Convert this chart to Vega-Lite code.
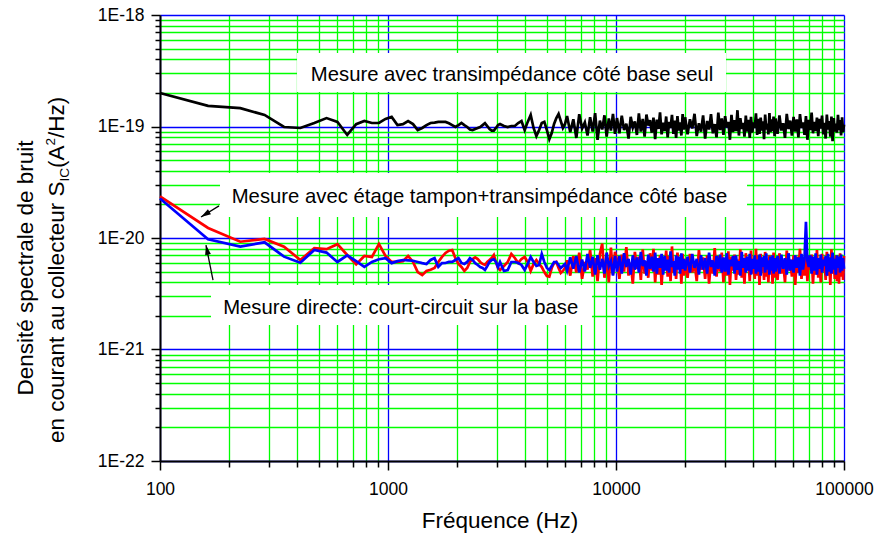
{
"$schema": "https://vega.github.io/schema/vega-lite/v6.json",
"width": 684, "height": 446,
"autosize": {"type": "none"},
"padding": {"left": 160, "top": 15, "right": 31, "bottom": 74},
"background": "white",
"config": {"view": {"stroke": null}, "font": "Liberation Sans"},
"resolve": {"axis": {"x": "independent", "y": "independent"}},
"data": {"values": [
{"f":100,"k":2.0e-19,"r":2.36e-20,"b":2.26e-20},
{"f":162.5,"k":1.53e-19,"r":1.23e-20,"b":9.75e-21},
{"f":225,"k":1.46e-19,"r":9.26e-21,"b":8.36e-21},
{"f":287.5,"k":1.27e-19,"r":9.8e-21,"b":9.15e-21},
{"f":350,"k":9.9e-20,"r":8.36e-21,"b":6.8e-21},
{"f":412.5,"k":9.7e-20,"r":6.35e-21,"b":6.0e-21},
{"f":475,"k":1.075e-19,"r":8.1e-21,"b":7.8e-21},
{"f":537.5,"k":1.19e-19,"r":7.95e-21,"b":7.4e-21},
{"f":600,"k":1.1e-19,"r":8.8e-21,"b":6.1e-21},
{"f":662.5,"k":8.4e-20,"r":7.04e-21,"b":7.0e-21},
{"f":725,"k":1.05e-19,"r":5.8e-21,"b":6.2e-21},
{"f":787.5,"k":1.12e-19,"r":6.9e-21,"b":5.5e-21},
{"f":850,"k":1.075e-19,"r":6.76e-21,"b":6.1e-21},
{"f":912.5,"k":1.075e-19,"r":8.84e-21,"b":6.45e-21},
{"f":975,"k":1.17e-19,"r":6.9e-21,"b":6.6e-21},
{"f":1037.5,"k":1.22e-19,"r":6.1e-21,"b":5.95e-21},
{"f":1100,"k":1.03e-19,"r":6.1e-21,"b":6.2e-21},
{"f":1162.5,"k":1.05e-19,"r":6.2e-21,"b":6.35e-21},
{"f":1225,"k":1.12e-19,"r":6.9e-21,"b":6.3e-21},
{"f":1287.5,"k":1.05e-19,"r":6.1e-21,"b":6.25e-21},
{"f":1350,"k":9.3e-20,"r":4.95e-21,"b":6.1e-21},
{"f":1412.5,"k":9.7e-20,"r":4.66e-21,"b":5.95e-21},
{"f":1475,"k":1.03e-19,"r":5.06e-21,"b":5.85e-21},
{"f":1537.5,"k":1.075e-19,"r":5.2e-21,"b":6.35e-21},
{"f":1600,"k":1.085e-19,"r":5.38e-21,"b":6.6e-21},
{"f":1662.5,"k":1.1e-19,"r":6.1e-21,"b":5.5e-21},
{"f":1725,"k":1.1e-19,"r":6.76e-21,"b":5.95e-21},
{"f":1787.5,"k":1.1e-19,"r":7.34e-21,"b":5.97e-21},
{"f":1850,"k":1.07e-19,"r":7.7e-21,"b":6.1e-21},
{"f":1912.5,"k":1.03e-19,"r":7.8e-21,"b":6.1e-21},
{"f":1975,"k":9.9e-20,"r":6.6e-21,"b":6.35e-21},
{"f":2037.5,"k":1.03e-19,"r":5.85e-21,"b":6.6e-21},
{"f":2100,"k":1.075e-19,"r":5.5e-21,"b":5.97e-21},
{"f":2162.5,"k":1.03e-19,"r":5.06e-21,"b":5.85e-21},
{"f":2225,"k":9.9e-20,"r":5.38e-21,"b":6.1e-21},
{"f":2287.5,"k":9.4e-20,"r":6.1e-21,"b":6.6e-21},
{"f":2350,"k":9.3e-20,"r":6.48e-21,"b":6.35e-21},
{"f":2412.5,"k":9.5e-20,"r":6.7e-21,"b":5.95e-21},
{"f":2475,"k":9.7e-20,"r":6.48e-21,"b":5.73e-21},
{"f":2537.5,"k":9.9e-20,"r":6.1e-21,"b":5.49e-21},
{"f":2600,"k":1.03e-19,"r":5.85e-21,"b":5.38e-21},
{"f":2662.5,"k":1.07e-19,"r":5.73e-21,"b":5.16e-21},
{"f":2725,"k":1.01e-19,"r":6.1e-21,"b":5.6e-21},
{"f":2787.5,"k":9.5e-20,"r":6.35e-21,"b":6.1e-21},
{"f":2850,"k":9.2e-20,"r":6.62e-21,"b":6.35e-21},
{"f":2912.5,"k":9.2e-20,"r":7.04e-21,"b":6.45e-21},
{"f":2975,"k":9.7e-20,"r":6.09e-21,"b":6.1e-21},
{"f":3037.5,"k":1.03e-19,"r":5.38e-21,"b":5.49e-21},
{"f":3100,"k":1.053e-19,"r":5.16e-21,"b":6.09e-21},
{"f":3225,"k":1.01e-19,"r":5.61e-21,"b":5.06e-21},
{"f":3350,"k":9.9e-20,"r":6.09e-21,"b":5.16e-21},
{"f":3475,"k":1.01e-19,"r":7.19e-21,"b":6.09e-21},
{"f":3600,"k":1.01e-19,"r":6.62e-21,"b":6.09e-21},
{"f":3725,"k":1.075e-19,"r":5.97e-21,"b":5.97e-21},
{"f":3850,"k":1.12e-19,"r":6.48e-21,"b":5.73e-21},
{"f":3975,"k":9.3e-20,"r":6.76e-21,"b":5.16e-21},
{"f":4100,"k":1.1e-19,"r":6.09e-21,"b":5.85e-21},
{"f":4225,"k":1.27e-19,"r":5.06e-21,"b":6.76e-21},
{"f":4350,"k":9.7e-20,"r":5.85e-21,"b":6.09e-21},
{"f":4475,"k":8.2e-20,"r":6.35e-21,"b":5.61e-21},
{"f":4600,"k":9.3e-20,"r":5.85e-21,"b":5.73e-21},
{"f":4725,"k":1.075e-19,"r":5.49e-21,"b":7.19e-21},
{"f":4850,"k":1.1e-19,"r":4.95e-21,"b":6.09e-21},
{"f":4975,"k":9.3e-20,"r":4.56e-21,"b":5.38e-21},
{"f":5100,"k":7.7e-20,"r":4.5e-21,"b":5.16e-21},
{"f":5225,"k":8.74e-20,"r":5.38e-21,"b":5.61e-21},
{"f":5350,"k":1.053e-19,"r":5.97e-21,"b":6.09e-21},
{"f":5475,"k":1.19e-19,"r":6.1e-21,"b":6.09e-21},
{"f":5600,"k":1.295e-19,"r":5.38e-21,"b":5.73e-21},
{"f":5725,"k":1.12e-19,"r":4.85e-21,"b":5.38e-21},
{"f":5850,"k":9.7e-20,"r":5.06e-21,"b":5.61e-21},
{"f":5975,"k":1.053e-19,"r":5.38e-21,"b":5.85e-21},
{"f":6100,"k":1.24e-19,"r":6.3e-21,"b":5.1e-21},
{"f":6300,"k":8.9e-20,"r":4.6e-21,"b":6.7e-21},
{"f":6500,"k":1.16e-19,"r":6.9e-21,"b":5.3e-21},
{"f":6700,"k":7.9e-20,"r":4.9e-21,"b":6.9e-21},
{"f":6900,"k":1.29e-19,"r":7.4e-21,"b":4.9e-21},
{"f":7100,"k":9.6e-20,"r":4.3e-21,"b":6.4e-21},
{"f":7300,"k":1.09e-19,"r":6.1e-21,"b":5.0e-21},
{"f":7500,"k":8.3e-20,"r":5.2e-21,"b":7.2e-21},
{"f":7700,"k":1.21e-19,"r":7.8e-21,"b":5.4e-21},
{"f":7900,"k":9.0e-20,"r":4.5e-21,"b":6.8e-21},
{"f":8100,"k":1.32e-19,"r":6.6e-21,"b":4.7e-21},
{"f":8300,"k":7.6e-20,"r":4.1e-21,"b":7.0e-21},
{"f":8500,"k":1.13e-19,"r":7.2e-21,"b":5.2e-21},
{"f":8700,"k":9.4e-20,"r":8.9e-21,"b":6.5e-21},
{"f":8900,"k":1.26e-19,"r":4.4e-21,"b":4.8e-21},
{"f":9100,"k":8.1e-20,"r":6.8e-21,"b":7.4e-21},
{"f":9300,"k":1.18e-19,"r":4.0e-21,"b":5.6e-21},
{"f":9500,"k":9.2e-20,"r":8.2e-21,"b":6.2e-21},
{"f":9700,"k":1.3e-19,"r":4.7e-21,"b":4.6e-21},
{"f":9900,"k":8.6e-20,"r":7.5e-21,"b":6.9e-21},
{"f":10100,"k":1.19e-19,"r":6.4e-21,"b":5.0e-21},
{"f":10350,"k":8.7e-20,"r":4.3e-21,"b":6.9e-21},
{"f":10600,"k":1.25e-19,"r":7.1e-21,"b":4.8e-21},
{"f":10850,"k":9.3e-20,"r":5.0e-21,"b":7.3e-21},
{"f":11100,"k":1.06e-19,"r":8.3e-21,"b":5.5e-21},
{"f":11350,"k":7.8e-20,"r":4.6e-21,"b":6.5e-21},
{"f":11600,"k":1.22e-19,"r":6.0e-21,"b":4.7e-21},
{"f":11850,"k":9.8e-20,"r":3.9e-21,"b":7.0e-21},
{"f":12100,"k":1.11e-19,"r":7.5e-21,"b":5.2e-21},
{"f":12350,"k":8.4e-20,"r":5.3e-21,"b":6.7e-21},
{"f":12600,"k":1.31e-19,"r":6.8e-21,"b":4.9e-21},
{"f":12850,"k":9.0e-20,"r":4.2e-21,"b":7.5e-21},
{"f":13100,"k":1.17e-19,"r":7.9e-21,"b":5.6e-21},
{"f":13350,"k":8.1e-20,"r":4.8e-21,"b":6.3e-21},
{"f":13600,"k":1.28e-19,"r":6.2e-21,"b":4.6e-21},
{"f":13850,"k":1.02e-19,"r":4.4e-21,"b":7.1e-21},
{"f":14100,"k":1.14e-19,"r":7.3e-21,"b":5.3e-21},
{"f":14350,"k":8.8e-20,"r":5.1e-21,"b":6.8e-21},
{"f":14600,"k":1.2e-19,"r":8.0e-21,"b":5.0e-21},
{"f":14850,"k":7.7e-20,"r":4.0e-21,"b":7.4e-21},
{"f":15100,"k":1.15e-19,"r":6.6e-21,"b":4.8e-21},
{"f":15350,"k":9.5e-20,"r":4.7e-21,"b":6.6e-21},
{"f":15600,"k":1.34e-19,"r":7.0e-21,"b":5.4e-21},
{"f":15850,"k":8.5e-20,"r":3.8e-21,"b":7.2e-21},
{"f":16100,"k":1.08e-19,"r":6.3e-21,"b":4.7e-21},
{"f":16350,"k":9.1e-20,"r":5.2e-21,"b":6.9e-21},
{"f":16600,"k":1.23e-19,"r":7.7e-21,"b":5.1e-21},
{"f":16850,"k":8.0e-20,"r":4.5e-21,"b":6.4e-21},
{"f":17100,"k":1.1e-19,"r":6.9e-21,"b":4.9e-21},
{"f":17350,"k":9.7e-20,"r":4.1e-21,"b":7.6e-21},
{"f":17600,"k":1.27e-19,"r":8.4e-21,"b":5.5e-21},
{"f":17850,"k":8.6e-20,"r":4.9e-21,"b":6.2e-21},
{"f":18100,"k":1.13e-19,"r":6.1e-21,"b":4.6e-21},
{"f":18350,"k":7.9e-20,"r":4.3e-21,"b":7.0e-21},
{"f":18600,"k":1.24e-19,"r":7.4e-21,"b":5.2e-21},
{"f":18850,"k":9.2e-20,"r":5.4e-21,"b":6.8e-21},
{"f":19100,"k":1.09e-19,"r":6.7e-21,"b":4.8e-21},
{"f":19350,"k":8.3e-20,"r":3.9e-21,"b":7.3e-21},
{"f":19600,"k":1.29e-19,"r":7.2e-21,"b":5.3e-21},
{"f":19850,"k":9.4e-20,"r":4.6e-21,"b":6.5e-21},
{"f":20100,"k":1.21e-19,"r":6.5e-21,"b":5.1e-21},
{"f":20600,"k":8.5e-20,"r":4.4e-21,"b":6.8e-21},
{"f":21100,"k":1.16e-19,"r":7.2e-21,"b":4.9e-21},
{"f":21600,"k":9.6e-20,"r":4.9e-21,"b":7.2e-21},
{"f":22100,"k":1.3e-19,"r":6.0e-21,"b":5.4e-21},
{"f":22600,"k":8.2e-20,"r":4.1e-21,"b":6.5e-21},
{"f":23100,"k":1.07e-19,"r":7.8e-21,"b":4.7e-21},
{"f":23600,"k":9.0e-20,"r":5.2e-21,"b":7.0e-21},
{"f":24100,"k":1.26e-19,"r":6.7e-21,"b":5.2e-21},
{"f":24600,"k":7.8e-20,"r":4.3e-21,"b":6.6e-21},
{"f":25100,"k":1.12e-19,"r":7.0e-21,"b":4.8e-21},
{"f":25600,"k":9.4e-20,"r":3.9e-21,"b":7.4e-21},
{"f":26100,"k":1.29e-19,"r":6.3e-21,"b":5.5e-21},
{"f":26600,"k":8.7e-20,"r":4.8e-21,"b":6.3e-21},
{"f":27100,"k":1.05e-19,"r":8.1e-21,"b":4.6e-21},
{"f":27600,"k":8.0e-20,"r":4.5e-21,"b":6.9e-21},
{"f":28100,"k":1.33e-19,"r":6.9e-21,"b":5.3e-21},
{"f":28600,"k":9.3e-20,"r":5.0e-21,"b":7.1e-21},
{"f":29100,"k":1.18e-19,"r":7.4e-21,"b":4.9e-21},
{"f":29600,"k":8.4e-20,"r":4.0e-21,"b":6.7e-21},
{"f":30100,"k":1.24e-19,"r":6.2e-21,"b":5.0e-21},
{"f":30600,"k":9.8e-20,"r":4.6e-21,"b":7.3e-21},
{"f":31100,"k":1.1e-19,"r":7.6e-21,"b":4.7e-21},
{"f":31600,"k":7.6e-20,"r":3.8e-21,"b":6.4e-21},
{"f":32100,"k":1.27e-19,"r":6.8e-21,"b":5.6e-21},
{"f":32600,"k":8.9e-20,"r":5.1e-21,"b":6.9e-21},
{"f":33100,"k":1.14e-19,"r":7.1e-21,"b":4.8e-21},
{"f":33600,"k":9.1e-20,"r":4.2e-21,"b":7.0e-21},
{"f":34100,"k":1.4e-19,"r":6.4e-21,"b":5.2e-21},
{"f":34600,"k":8.3e-20,"r":4.7e-21,"b":6.2e-21},
{"f":35100,"k":1.19e-19,"r":7.9e-21,"b":4.6e-21},
{"f":35600,"k":9.5e-20,"r":4.4e-21,"b":7.5e-21},
{"f":36100,"k":1.08e-19,"r":6.1e-21,"b":5.4e-21},
{"f":36600,"k":8.1e-20,"r":3.9e-21,"b":6.6e-21},
{"f":37100,"k":1.25e-19,"r":7.3e-21,"b":4.9e-21},
{"f":37600,"k":9.0e-20,"r":5.3e-21,"b":6.8e-21},
{"f":38100,"k":1.15e-19,"r":6.6e-21,"b":5.1e-21},
{"f":38600,"k":7.9e-20,"r":4.1e-21,"b":7.2e-21},
{"f":39100,"k":1.22e-19,"r":7.7e-21,"b":4.7e-21},
{"f":39600,"k":8.8e-20,"r":4.8e-21,"b":6.5e-21},
{"f":40100,"k":1.09e-19,"r":6.0e-21,"b":5.3e-21},
{"f":40600,"k":9.7e-20,"r":4.3e-21,"b":7.0e-21},
{"f":41100,"k":1.31e-19,"r":8.0e-21,"b":4.8e-21},
{"f":41600,"k":8.4e-20,"r":4.6e-21,"b":6.4e-21},
{"f":42100,"k":1.17e-19,"r":6.9e-21,"b":5.0e-21},
{"f":42600,"k":8.6e-20,"r":3.8e-21,"b":7.1e-21},
{"f":43100,"k":1.2e-19,"r":7.2e-21,"b":4.6e-21},
{"f":43600,"k":9.2e-20,"r":5.0e-21,"b":6.7e-21},
{"f":44100,"k":1.11e-19,"r":6.5e-21,"b":5.5e-21},
{"f":44600,"k":7.7e-20,"r":4.2e-21,"b":6.9e-21},
{"f":45100,"k":1.28e-19,"r":7.5e-21,"b":4.9e-21},
{"f":45600,"k":9.4e-20,"r":4.5e-21,"b":7.3e-21},
{"f":46100,"k":1.06e-19,"r":6.3e-21,"b":5.2e-21},
{"f":46600,"k":8.5e-20,"r":4.0e-21,"b":6.3e-21},
{"f":47100,"k":1.32e-19,"r":7.0e-21,"b":4.7e-21},
{"f":47600,"k":8.9e-20,"r":4.9e-21,"b":6.8e-21},
{"f":48100,"k":1.16e-19,"r":6.7e-21,"b":5.1e-21},
{"f":48600,"k":9.1e-20,"r":3.9e-21,"b":7.0e-21},
{"f":49100,"k":1.23e-19,"r":7.4e-21,"b":4.8e-21},
{"f":49600,"k":8.2e-20,"r":4.4e-21,"b":6.6e-21},
{"f":50100,"k":1.18e-19,"r":6.6e-21,"b":5.0e-21},
{"f":51100,"k":8.6e-20,"r":4.2e-21,"b":6.9e-21},
{"f":52100,"k":1.26e-19,"r":7.3e-21,"b":4.8e-21},
{"f":53100,"k":9.2e-20,"r":4.8e-21,"b":7.1e-21},
{"f":54100,"k":1.07e-19,"r":6.1e-21,"b":5.3e-21},
{"f":55100,"k":7.9e-20,"r":4.0e-21,"b":6.6e-21},
{"f":56100,"k":1.3e-19,"r":7.7e-21,"b":4.7e-21},
{"f":57100,"k":9.5e-20,"r":5.1e-21,"b":7.3e-21},
{"f":58100,"k":1.13e-19,"r":6.4e-21,"b":5.1e-21},
{"f":59100,"k":8.3e-20,"r":4.5e-21,"b":6.4e-21},
{"f":60100,"k":1.22e-19,"r":7.0e-21,"b":4.9e-21},
{"f":61100,"k":9.0e-20,"r":3.8e-21,"b":7.0e-21},
{"f":62100,"k":1.16e-19,"r":6.8e-21,"b":5.4e-21},
{"f":63100,"k":8.0e-20,"r":4.9e-21,"b":6.7e-21},
{"f":64100,"k":1.29e-19,"r":8.0e-21,"b":4.6e-21},
{"f":65100,"k":9.7e-20,"r":4.3e-21,"b":7.2e-21},
{"f":66100,"k":1.09e-19,"r":6.2e-21,"b":5.2e-21},
{"f":67100,"k":8.4e-20,"r":4.6e-21,"b":6.5e-21},
{"f":68100,"k":1.24e-19,"r":7.4e-21,"b":1.4e-20},
{"f":69100,"k":7.6e-20,"r":4.1e-21,"b":6.2e-21},
{"f":70100,"k":1.15e-19,"r":6.9e-21,"b":5.5e-21},
{"f":71100,"k":9.3e-20,"r":5.2e-21,"b":7.0e-21},
{"f":72100,"k":1.33e-19,"r":7.1e-21,"b":4.8e-21},
{"f":73100,"k":8.7e-20,"r":3.9e-21,"b":6.8e-21},
{"f":74100,"k":1.1e-19,"r":6.5e-21,"b":5.1e-21},
{"f":75100,"k":9.1e-20,"r":4.7e-21,"b":7.3e-21},
{"f":76100,"k":1.2e-19,"r":7.8e-21,"b":4.7e-21},
{"f":77100,"k":8.2e-20,"r":4.4e-21,"b":6.6e-21},
{"f":78100,"k":1.17e-19,"r":6.0e-21,"b":5.3e-21},
{"f":79100,"k":9.6e-20,"r":4.0e-21,"b":7.1e-21},
{"f":80100,"k":1.25e-19,"r":7.2e-21,"b":4.9e-21},
{"f":81100,"k":8.5e-20,"r":5.0e-21,"b":6.4e-21},
{"f":82100,"k":1.08e-19,"r":6.7e-21,"b":5.6e-21},
{"f":83100,"k":7.8e-20,"r":4.2e-21,"b":6.9e-21},
{"f":84100,"k":1.28e-19,"r":7.5e-21,"b":4.6e-21},
{"f":85100,"k":9.4e-20,"r":4.6e-21,"b":7.2e-21},
{"f":86100,"k":1.12e-19,"r":6.3e-21,"b":5.0e-21},
{"f":87100,"k":8.1e-20,"r":3.8e-21,"b":6.7e-21},
{"f":88100,"k":1.23e-19,"r":7.9e-21,"b":4.8e-21},
{"f":89100,"k":7.4e-20,"r":4.8e-21,"b":7.4e-21},
{"f":90100,"k":1.19e-19,"r":6.6e-21,"b":5.2e-21},
{"f":91100,"k":9.0e-20,"r":4.3e-21,"b":6.5e-21},
{"f":92100,"k":1.06e-19,"r":7.0e-21,"b":4.7e-21},
{"f":93100,"k":8.8e-20,"r":4.1e-21,"b":7.0e-21},
{"f":94100,"k":1.27e-19,"r":6.8e-21,"b":5.4e-21},
{"f":95100,"k":9.3e-20,"r":3.9e-21,"b":6.8e-21},
{"f":96100,"k":1.14e-19,"r":7.3e-21,"b":4.9e-21},
{"f":97100,"k":8.3e-20,"r":4.5e-21,"b":7.1e-21},
{"f":98100,"k":1.21e-19,"r":6.4e-21,"b":5.1e-21},
{"f":99100,"k":8.9e-20,"r":4.2e-21,"b":6.6e-21},
{"f":100000,"k":1.04e-19,"r":6.9e-21,"b":5.3e-21}
]},
"layer": [
{"data": {"values": [{}]}, "mark": {"type": "rect", "fill": "white"},
 "encoding": {
  "x": {"datum": 399, "type": "quantitative", "scale": {"type": "log", "domain": [100, 100000], "nice": false}, "axis": null},
  "x2": {"datum": 30380},
  "y": {"datum": 4.56e-19, "type": "quantitative", "scale": {"type": "log", "domain": [1e-22, 1e-18], "nice": false}, "axis": null},
  "y2": {"datum": 2.04e-19}}},
{"data": {"values": [{}]}, "mark": {"type": "rect", "fill": "white"},
 "encoding": {
  "x": {"datum": 183.3, "type": "quantitative", "axis": null},
  "x2": {"datum": 37550},
  "y": {"datum": 3.83e-20, "type": "quantitative", "axis": null},
  "y2": {"datum": 1.543e-20}}},
{"data": {"values": [{}]}, "mark": {"type": "rect", "fill": "white"},
 "encoding": {
  "x": {"datum": 167.4, "type": "quantitative", "axis": null},
  "x2": {"datum": 7847},
  "y": {"datum": 3.79e-21, "type": "quantitative", "axis": null},
  "y2": {"datum": 1.66e-21}}},
{"mark": {"type": "line", "color": "#000000", "strokeWidth": 2.7},
 "encoding": {
  "x": {"field": "f", "type": "quantitative",
   "scale": {"type": "log", "domain": [100, 100000], "nice": false},
   "axis": {
    "orient": "bottom",
    "values": [100,200,300,400,500,600,700,800,900,1000,2000,3000,4000,5000,6000,7000,8000,9000,10000,20000,30000,40000,50000,60000,70000,80000,90000,100000],
    "format": "d",
    "labelExpr": "abs(log(datum.value)/LN10 - round(log(datum.value)/LN10)) < 0.01 ? datum.label : ''",
    "labelFont": "Liberation Sans", "labelFontSize": 17.5, "labelColor": "#000000",
    "labelFlush": false, "labelOverlap": false, "labelPadding": 10,
    "grid": true,
    "gridColor": {"condition": {"test": "abs(log(datum.value)/LN10 - round(log(datum.value)/LN10)) < 0.01", "value": "#0000ff"}, "value": "#00ff00"},
    "gridWidth": 1.3, "gridOpacity": 1,
    "ticks": true,
    "tickSize": {"condition": {"test": "abs(log(datum.value)/LN10 - round(log(datum.value)/LN10)) < 0.01", "value": 9}, "value": 6},
    "tickColor": "#000000", "tickWidth": 1.5,
    "domainColor": "#000000", "domainWidth": 2,
    "title": "Fréquence (Hz)", "titleFont": "Liberation Sans", "titleFontSize": 22.5, "titleFontWeight": "normal", "titleColor": "#000000",
    "titleX": 339.5, "titleY": 66, "titleAlign": "center", "titleBaseline": "alphabetic"
   }},
  "y": {"field": "k", "type": "quantitative",
   "scale": {"type": "log", "domain": [1e-22, 1e-18], "nice": false},
   "axis": {
    "orient": "left",
    "values": [1e-22,2e-22,3e-22,4e-22,5e-22,6e-22,7e-22,8e-22,9e-22,1e-21,2e-21,3e-21,4e-21,5e-21,6e-21,7e-21,8e-21,9e-21,1e-20,2e-20,3e-20,4e-20,5e-20,6e-20,7e-20,8e-20,9e-20,1e-19,2e-19,3e-19,4e-19,5e-19,6e-19,7e-19,8e-19,9e-19,1e-18],
    "labelExpr": "abs(log(datum.value)/LN10 - round(log(datum.value)/LN10)) < 0.01 ? '1E' + round(log(datum.value)/LN10) : ''",
    "labelFont": "Liberation Sans", "labelFontSize": 17.5, "labelColor": "#000000",
    "labelFlush": false, "labelOverlap": false, "labelPadding": 7,
    "grid": true,
    "gridColor": {"condition": {"test": "abs(log(datum.value)/LN10 - round(log(datum.value)/LN10)) < 0.01", "value": "#0000ff"}, "value": "#00ff00"},
    "gridWidth": 1.3, "gridOpacity": 1,
    "ticks": true,
    "tickSize": {"condition": {"test": "abs(log(datum.value)/LN10 - round(log(datum.value)/LN10)) < 0.01", "value": 9}, "value": 5},
    "tickColor": "#000000", "tickWidth": 1.5,
    "domainColor": "#000000", "domainWidth": 2,
    "title": null
   }}}},
{"mark": {"type": "line", "color": "#ff0000", "strokeWidth": 2.7},
 "encoding": {
  "x": {"field": "f", "type": "quantitative", "axis": null},
  "y": {"field": "r", "type": "quantitative", "axis": null}}},
{"mark": {"type": "line", "color": "#0000ff", "strokeWidth": 2.7},
 "encoding": {
  "x": {"field": "f", "type": "quantitative", "axis": null},
  "y": {"field": "b", "type": "quantitative", "axis": null}}},
{"data": {"values": [{}]}, "mark": {"type": "text", "text": "Mesure avec transimpédance côté base seul", "font": "Liberation Sans", "fontSize": 20.3, "align": "center", "baseline": "alphabetic", "color": "#000000"},
 "encoding": {"x": {"datum": 3500, "type": "quantitative", "axis": null}, "y": {"datum": 2.56e-19, "type": "quantitative", "axis": null}}},
{"data": {"values": [{}]}, "mark": {"type": "text", "text": "Mesure avec étage tampon+transimpédance côté base", "font": "Liberation Sans", "fontSize": 20.3, "align": "center", "baseline": "alphabetic", "color": "#000000"},
 "encoding": {"x": {"datum": 2519, "type": "quantitative", "axis": null}, "y": {"datum": 2.06e-20, "type": "quantitative", "axis": null}}},
{"data": {"values": [{}]}, "mark": {"type": "text", "text": "Mesure directe: court-circuit sur la base", "font": "Liberation Sans", "fontSize": 20.3, "align": "center", "baseline": "alphabetic", "color": "#000000"},
 "encoding": {"x": {"datum": 1137, "type": "quantitative", "axis": null}, "y": {"datum": 2.1e-21, "type": "quantitative", "axis": null}}},
{"data": {"values": [{}]}, "mark": {"type": "rule", "color": "#000000", "strokeWidth": 1.3},
 "encoding": {"x": {"datum": 181.5, "type": "quantitative", "axis": null}, "y": {"datum": 1.94e-20, "type": "quantitative", "axis": null}, "x2": {"datum": 151.3}, "y2": {"datum": 1.543e-20}}},
{"data": {"values": [{}]}, "mark": {"type": "rule", "color": "#000000", "strokeWidth": 1.3},
 "encoding": {"x": {"datum": 170.8, "type": "quantitative", "axis": null}, "y": {"datum": 4.2e-21, "type": "quantitative", "axis": null}, "x2": {"datum": 159.1}, "y2": {"datum": 8.65e-21}}},
{"data": {"values": [{}]}, "mark": {"type": "point", "shape": "M0,0L0.65,2.2L-0.65,2.2Z", "filled": true, "color": "#000000", "opacity": 1, "size": 81, "angle": 238.6, "strokeWidth": 0},
 "encoding": {"x": {"datum": 151.3, "type": "quantitative", "axis": null}, "y": {"datum": 1.543e-20, "type": "quantitative", "axis": null}}},
{"data": {"values": [{}]}, "mark": {"type": "point", "shape": "M0,0L0.65,2.2L-0.65,2.2Z", "filled": true, "color": "#000000", "opacity": 1, "size": 81, "angle": 348.2, "strokeWidth": 0},
 "encoding": {"x": {"datum": 159.1, "type": "quantitative", "axis": null}, "y": {"datum": 8.65e-21, "type": "quantitative", "axis": null}}},
{"data": {"values": [{}]}, "mark": {"type": "text", "text": "Densité spectrale de bruit", "font": "Liberation Sans", "fontSize": 22.5, "angle": 270, "align": "center", "baseline": "alphabetic", "color": "#000000"},
 "encoding": {"x": {"value": -127}, "y": {"value": 253}}},
{"data": {"values": [{}]}, "mark": {"type": "text", "text": "en courant au collecteur S", "font": "Liberation Sans", "fontSize": 22.5, "angle": 270, "align": "left", "baseline": "alphabetic", "color": "#000000"},
 "encoding": {"x": {"value": -96}, "y": {"value": 428}}},
{"data": {"values": [{}]}, "mark": {"type": "text", "text": "IC", "font": "Liberation Sans", "fontSize": 13.5, "angle": 270, "align": "left", "baseline": "alphabetic", "color": "#000000"},
 "encoding": {"x": {"value": -91.5}, "y": {"value": 166.6}}},
{"data": {"values": [{}]}, "mark": {"type": "text", "text": "(A", "font": "Liberation Sans", "fontSize": 22.5, "angle": 270, "align": "left", "baseline": "alphabetic", "color": "#000000"},
 "encoding": {"x": {"value": -96}, "y": {"value": 153.1}}},
{"data": {"values": [{}]}, "mark": {"type": "text", "text": "2", "font": "Liberation Sans", "fontSize": 13.5, "angle": 270, "align": "left", "baseline": "alphabetic", "color": "#000000"},
 "encoding": {"x": {"value": -105.5}, "y": {"value": 130.6}}},
{"data": {"values": [{}]}, "mark": {"type": "text", "text": "/Hz)", "font": "Liberation Sans", "fontSize": 22.5, "angle": 270, "align": "left", "baseline": "alphabetic", "color": "#000000"},
 "encoding": {"x": {"value": -96}, "y": {"value": 123.1}}}
]
}
